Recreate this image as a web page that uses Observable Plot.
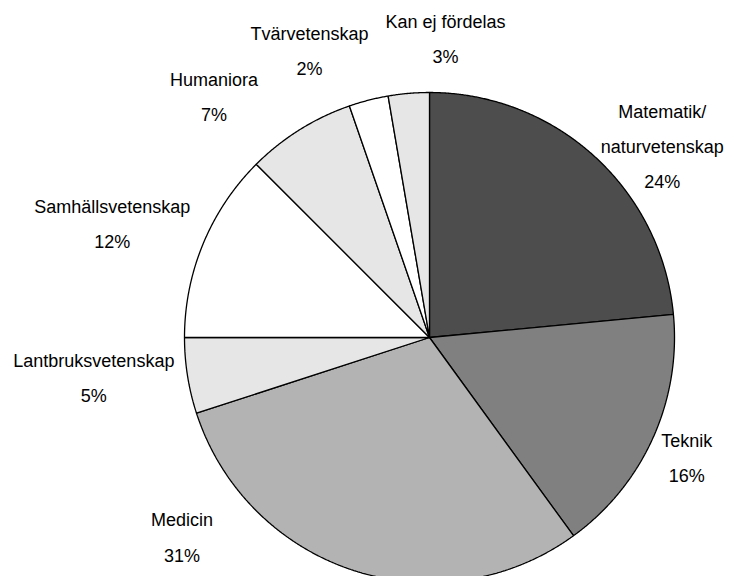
<!DOCTYPE html>
<html>
<head>
<meta charset="utf-8">
<script src="https://cdn.jsdelivr.net/npm/d3@7"></script>
<script src="https://cdn.jsdelivr.net/npm/@observablehq/plot@0.6"></script>
<style>
  html, body { margin: 0; padding: 0; background: #fff; }
  #chart { width: 736px; height: 576px; overflow: hidden; }
</style>
</head>
<body>
<div id="chart"></div>
<script>
// Categories, clockwise from 12 o'clock
const categories = ["Matematik/\nnaturvetenskap", "Teknik", "Medicin", "Lantbruksvetenskap",
  "Samhällsvetenskap", "Humaniora", "Tvärvetenskap", "Kan ej fördelas"];
// Share of total (percent)
const shares = [23.5, 16.5, 30.0, 5.0, 12.5, 7.2, 2.6, 2.7];
// Printed percentage labels
const pctLabels = ["24%", "16%", "31%", "5%", "12%", "7%", "2%", "3%"];
// Slice fill colours
const fills = ["#4d4d4d", "#808080", "#b3b3b3", "#e6e6e6", "#ffffff", "#e6e6e6", "#ffffff", "#e6e6e6"];
// Label anchors in pie-radius units (x right, y up)
const labelX = [0.95, 1.05, -1.01, -1.37, -1.295, -0.88, -0.49, 0.065];
const labelY = [0.80, -0.473, -0.797, -0.147, 0.482, 1.0, 1.187, 1.238];

const total = d3.sum(shares);
const points = [];
let cum = 0;
categories.forEach((name, i) => {
  const a0 = cum / total * 2 * Math.PI;
  cum += shares[i];
  const a1 = cum / total * 2 * Math.PI;
  points.push({name, x: 0, y: 0});
  const n = Math.max(2, Math.ceil((a1 - a0) / (Math.PI / 720)));
  for (let k = 0; k <= n; k++) {
    const a = a0 + (a1 - a0) * k / n;
    points.push({name, x: Math.sin(a), y: Math.cos(a)});
  }
  points.push({name, x: 0, y: 0});
});

const labels = categories.map((name, i) => ({
  text: name + "\n" + pctLabels[i], x: labelX[i], y: labelY[i]
}));

const R = 245, cx = 429, cy = 337;
const chart = Plot.plot({
  width: 736,
  height: 576,
  style: {background: "#fff", overflow: "hidden"},
  x: {domain: [-1, 1], range: [cx - R, cx + R], axis: null},
  y: {domain: [-1, 1], range: [cy + R, cy - R], axis: null},
  color: {domain: categories, range: fills},
  marks: [
    Plot.line(points, {x: "x", y: "y", z: "name", fill: "name", stroke: "#000",
      strokeWidth: 1.3, strokeLinejoin: "miter", curve: "linear"}),
    Plot.text(labels, {x: "x", y: "y", text: "text", fill: "#000",
      fontSize: 18, fontFamily: "'Liberation Sans', Arial, sans-serif",
      lineHeight: 1.95, textAnchor: "middle", lineAnchor: "middle"})
  ]
});
document.getElementById("chart").appendChild(chart);
</script>
</body>
</html>
